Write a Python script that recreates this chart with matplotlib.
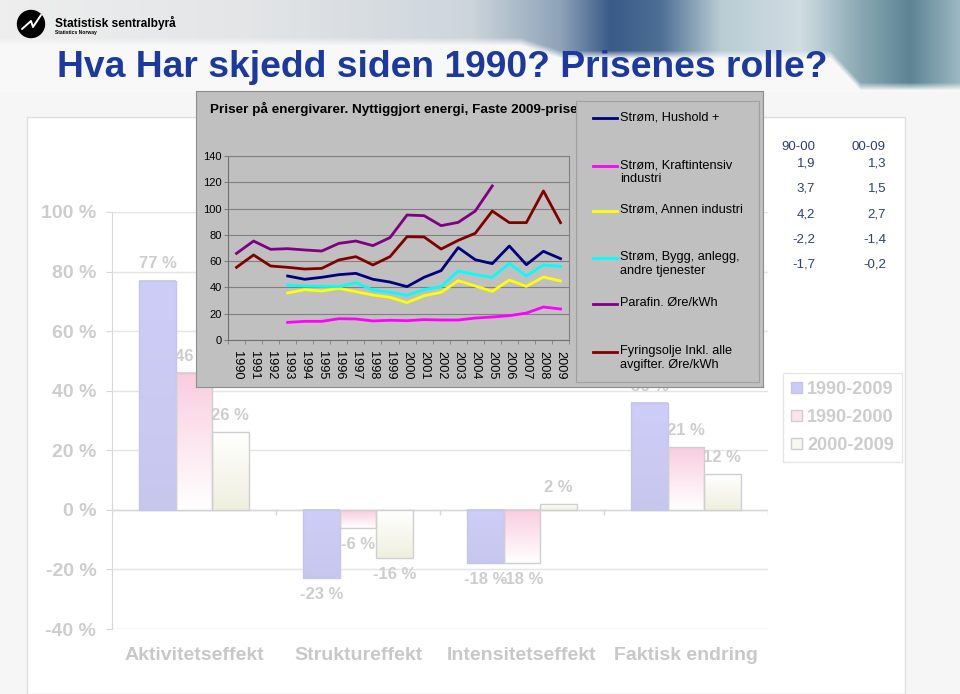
import numpy as np
import matplotlib
matplotlib.use('Agg')
import matplotlib.pyplot as plt
from matplotlib import font_manager
from matplotlib.patches import Rectangle, Circle

W, H = 960, 694

# ---- background bar chart (decomposition) ----
categories = ['Aktivitetseffekt', 'Struktureffekt', 'Intensitetseffekt', 'Faktisk endring']
periods = ['1990-2009', '1990-2000', '2000-2009']
eff_1990_2009 = [77, -23, -18, 36]
eff_1990_2000 = [46, -6, -18, 21]
eff_2000_2009 = [26, -16, 2, 12]

# ---- inset line chart (prices) ----
years = [str(y) for y in range(1990, 2010)]
nan = np.nan
strom_hushold = [nan, nan, nan, 48.7, 46.2, 47.7, 49.7, 50.7, 46.2, 44.1,
                 40.6, 47.7, 52.8, 70.3, 61.1, 58.1, 71.5, 57.3, 67.5, 61.9]
strom_kraft = [nan, nan, nan, 13.4, 14.2, 14.2, 16.2, 16.0, 14.5, 15.0,
               14.7, 15.5, 15.2, 15.2, 16.7, 17.5, 18.5, 20.5, 25.1, 23.6]
strom_annen = [nan, nan, nan, 35.8, 38.3, 37.3, 39.3, 36.8, 34.2, 32.5,
               28.4, 33.7, 36.3, 45.1, 41.1, 37.0, 45.6, 40.8, 47.9, 44.9]
strom_bygg = [nan, nan, nan, 41.8, 41.1, 40.8, 40.6, 43.6, 38.0, 36.3,
              34.0, 38.3, 40.6, 52.5, 49.7, 47.7, 58.3, 48.7, 57.1, 56.0]
parafin = [65.9, 75.3, 69.0, 69.5, 68.5, 67.7, 73.5, 75.3, 71.8, 77.9,
           95.1, 94.6, 87.0, 89.5, 98.1, 117.2, nan, nan, nan, nan]
fyringsolje = [55.3, 64.7, 56.3, 55.3, 54.0, 54.5, 60.9, 63.4, 57.1, 63.4,
               78.6, 78.4, 69.2, 75.8, 81.2, 98.1, 89.3, 89.3, 113.4, 89.3]
series_labels = ['Strøm, Hushold +', 'Strøm, Kraftintensiv\nindustri', 'Strøm, Annen industri',
                 'Strøm, Bygg, anlegg,\nandre tjenester', 'Parafin. Øre/kWh',
                 'Fyringsolje Inkl. alle\navgifter. Øre/kWh']
series_colors = ['#000080', '#ff00ff', '#ffff00', '#00ffff', '#800080', '#800000']

# ---- growth table ----
table_cols = ['90-00', '00-09']
growth_90_00 = ['1,9', '3,7', '4,2', '-2,2', '-1,7']
growth_00_09 = ['1,3', '1,5', '2,7', '-1,4', '-0,2']


def px_rect(x0, y0, x1, y1):
    return [x0 / W, 1 - y1 / H, (x1 - x0) / W, (y1 - y0) / H]


names = {f.name for f in font_manager.fontManager.ttflist}
base = 'Liberation Sans' if 'Liberation Sans' in names else 'DejaVu Sans'
plt.rcParams['font.family'] = [base, 'DejaVu Sans']

fig = plt.figure(figsize=(W / 100, H / 100), dpi=100, facecolor='#f6f6f6')

# header banner
hdr = fig.add_axes(px_rect(0, 0, W, 92), zorder=0.2)
stops_x = [0, 250, 470, 560, 610, 660, 720, 800, 860, 910, 960]
stops_c = ['#eeeeee', '#e3e5e7', '#cdd5dc', '#8ea3b8', '#3a5a88', '#4d6f95',
           '#b9ccd4', '#d0dde2', '#8aa8b3', '#5d8493', '#9db9c2']
rgb = np.array([matplotlib.colors.to_rgb(c) for c in stops_c])
xs = np.arange(W)
row = np.stack([np.interp(xs, stops_x, rgb[:, k]) for k in range(3)], axis=1)
band_h = np.interp(xs, [0, 520, 560, 830, 860, 960], [45, 45, 58, 58, 90, 90])
ys = np.arange(92)[:, None]
alpha = np.clip((band_h[None, :] - ys) / 8.0, 0, 1)[:, :, None]
bg = np.array(matplotlib.colors.to_rgb('#f8f8f8'))
img = row[None, :, :] * alpha + bg[None, None, :] * (1 - alpha)
hdr.imshow(img, extent=[0, W, 92, 0], aspect='auto')
hdr.set_xlim(0, W)
hdr.set_ylim(92, 0)
hdr.axis('off')
hdr.add_patch(Circle((31, 24), 13.5, color='black'))
hdr.plot([22, 31, 33, 41], [29, 21, 27, 15], color='white', lw=1.4, solid_capstyle='round')
hdr.text(55, 23, 'Statistisk sentralbyrå', fontsize=8.6, fontweight='bold', va='center')
hdr.text(55, 32.5, 'Statistics Norway', fontsize=3.6, fontweight='bold', va='center')

if 'Liberation Sans Narrow' in names:
    fig.text(57 / W, 1 - 77 / H, 'Hva Har skjedd siden 1990? Prisenes rolle?',
             family=['Liberation Sans Narrow', 'DejaVu Sans'], fontsize=32.5,
             fontweight='bold', color='#1c3a9e', va='baseline', zorder=5)
else:
    fig.text(57 / W, 1 - 77 / H, 'Hva Har skjedd siden 1990? Prisenes rolle?',
             fontsize=26.8, fontweight='bold', color='#1c3a9e', va='baseline', zorder=5)

# white slide panel
fig.patches.append(Rectangle((27 / W, 0), (905 - 27) / W, 1 - 117 / H, transform=fig.transFigure,
                             facecolor='white', edgecolor='#dedede', lw=1, zorder=0.1))

# ---- background bar chart ----
light = '#cdcdcd'
ax = fig.add_axes(px_rect(112, 212, 768, 629), zorder=1)
ax.set_facecolor('none')
x = np.arange(len(categories))
bw = 0.222
face = ['#cbcbf6', '#fbe4ee', '#f8f8f0']
edges = ['#c4c4ec', '#cfcfcf', '#cfcfcf']
grads = [('#cdcdf8', '#c7c7ee'), ('#f9cddf', '#ffffff'), ('#ffffff', '#efefdf')]
all_vals = [eff_1990_2009, eff_1990_2000, eff_2000_2009]
containers = []
for k, vals in enumerate(all_vals):
    bars = ax.bar(x + (k - 1) * bw, vals, bw, color=face[k], edgecolor=edges[k],
                  lw=1, zorder=3, label=periods[k])
    containers.append(bars)

leg = ax.legend(handles=containers, loc='upper left', bbox_to_anchor=(783 / W, 1 - 373 / H),
                bbox_transform=fig.transFigure, frameon=True, fancybox=False,
                edgecolor='#e0e0e0', prop={'size': 13, 'weight': 'bold'},
                handlelength=0.6, handleheight=0.6, handletextpad=0.3,
                labelspacing=0.6, borderpad=0.45, borderaxespad=0)
for t in leg.get_texts():
    t.set_color(light)

for k, bars in enumerate(containers):
    c_top, c_bot = [np.array(matplotlib.colors.to_rgb(c)) for c in grads[k]]
    t = np.linspace(0, 1, 64)[:, None]
    g = (c_top[None, :] * (1 - t) + c_bot[None, :] * t)[:, None, :]
    for p, v in zip(bars.patches, all_vals[k]):
        x0, w = p.get_x(), p.get_width()
        y0, y1 = sorted([p.get_y(), p.get_y() + p.get_height()])
        ax.imshow(g, extent=[x0, x0 + w, y0, y1], aspect='auto', origin='upper', zorder=2.5)
        p.set_facecolor('none')
        ax.annotate(f'{v} %', (x0 + w / 2, v), xytext=(0, 6.5 if v >= 0 else -6.5),
                    textcoords='offset points', ha='center',
                    va='bottom' if v >= 0 else 'top', fontsize=12,
                    fontweight='bold', color=light, zorder=4)

ax.set_xlim(-0.5, len(categories) - 0.5)
ax.set_ylim(-40, 100)
yt = list(range(-40, 101, 20))
ax.set_yticks(yt, [f'{v} %' for v in yt])
ax.set_xticks(x, categories)
ax.grid(axis='y', color='#e4e4e4', lw=1, zorder=0)
ax.axhline(0, color='#d6d6d6', lw=1, zorder=2)
ax.vlines(np.arange(len(categories) + 1) - 0.5, -1.8, 0, color='#d6d6d6', lw=1, zorder=2)
for s in ['top', 'right', 'bottom']:
    ax.spines[s].set_visible(False)
ax.spines['left'].set_color('#d8d8d8')
ax.tick_params(axis='y', length=4.3, color='#d8d8d8', pad=7, labelsize=14, labelcolor=light)
ax.tick_params(axis='x', length=0, pad=13, labelsize=14, labelcolor='#c8c8c8')
for lab in ax.get_yticklabels() + ax.get_xticklabels():
    lab.set_fontweight('bold')

# ---- inset line chart ----
frame = fig.add_axes(px_rect(196, 91, 763, 387), zorder=2)
frame.set_facecolor('#c0c0c0')
frame.set_xticks([])
frame.set_yticks([])
for s in frame.spines.values():
    s.set_color('#8c8c8c')

fig.text(210 / W, 1 - 109 / H, 'Priser på energivarer. Nyttiggjort energi, Faste 2009-priser',
         fontsize=9.7, fontweight='bold', va='center', zorder=2.5)

lax = fig.add_axes(px_rect(228, 156, 569, 340), zorder=3)
lax.set_facecolor('#c0c0c0')
xi = np.arange(len(years))
all_series = [strom_hushold, strom_kraft, strom_annen, strom_bygg, parafin, fyringsolje]
lines = []
for vals, col in zip(all_series, series_colors):
    ln, = lax.plot(xi, vals, color=col, lw=2, zorder=3)
    lines.append(ln)
lax.set_xlim(-0.5, len(years) - 0.5)
lax.set_ylim(0, 140)
lax.set_yticks(range(0, 141, 20))
lax.grid(axis='y', color='#808080', lw=0.8)
lax.set_xticks(xi, years, rotation=270)
lax.set_xticks(np.arange(len(years) + 1) - 0.5, minor=True)
lax.tick_params(axis='x', which='major', length=0, pad=8, labelsize=9.2)
lax.tick_params(axis='x', which='minor', length=3, color='#808080')
lax.tick_params(axis='y', length=3, color='#808080', pad=1.5, labelsize=8)
for s in ['top', 'right']:
    lax.spines[s].set_color('#808080')
for s in ['left', 'bottom']:
    lax.spines[s].set_color('#707070')

# legend box of the line chart
gx = fig.add_axes(px_rect(576, 101, 759, 382), zorder=4)
gx.set_facecolor('#c0c0c0')
gx.set_xlim(576, 759)
gx.set_ylim(382, 101)
gx.set_xticks([])
gx.set_yticks([])
for s in gx.spines.values():
    s.set_color('#a0a0a0')
entry_y = [118, 166, 211, 258, 304, 352]
for ln, lab, y in zip(lines, series_labels, entry_y):
    gx.plot([593, 617], [y, y], color=ln.get_color(), lw=2)
    gx.text(620, y - 7, lab, fontsize=9.2, va='top', ha='left', linespacing=1.2)

# ---- growth table ----
tcol = '#2b3f80'
col_x = [815, 886]
for cx, head, vals in zip(col_x, table_cols, [growth_90_00, growth_00_09]):
    fig.text(cx / W, 1 - 147 / H, head, ha='right', va='center', fontsize=9.5, color=tcol)
    for i, v in enumerate(vals):
        fig.text(cx / W, 1 - (163 + 25.5 * i) / H, v, ha='right', va='center',
                 fontsize=9.5, color=tcol)

fig.savefig('out.png', dpi=100, facecolor=fig.get_facecolor())
